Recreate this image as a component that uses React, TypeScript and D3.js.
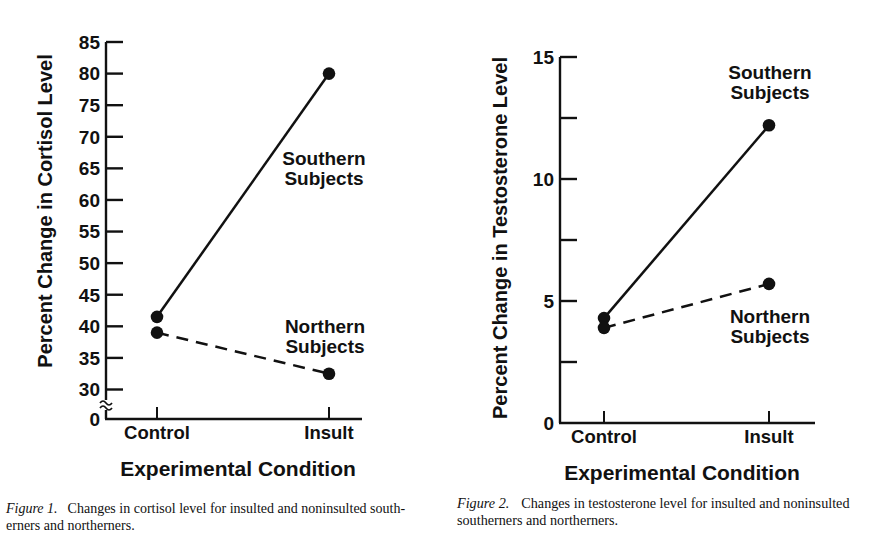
import React from 'react';
import * as d3 from 'd3';

const conditions = ['Control', 'Insult'];

const cortisolSouthern = [41.5, 80];
const cortisolNorthern = [39, 32.5];
const cortisolTicks = [30, 35, 40, 45, 50, 55, 60, 65, 70, 75, 80, 85];

const testoSouthern = [4.3, 12.2];
const testoNorthern = [3.9, 5.7];
const testoTicks = [0, 2.5, 5, 7.5, 10, 12.5, 15];
const testoLabels = [0, 5, 10, 15];

const sans = '"Liberation Sans", Arial, sans-serif';
const serif = '"Liberation Serif", "Times New Roman", serif';

type PanelProps = {
  axisX: number;
  axisEnd: number;
  xRange: [number, number];
  y: d3.ScaleLinear<number, number>;
  baseline: number;
  top: number;
  ticks: number[];
  labels: number[];
  southern: number[];
  northern: number[];
  yTitle: string;
  yTitleX: number;
  yTitleY: number;
  titleX: number;
  broken?: boolean;
  southLabel: [number, number];
  northLabel: [number, number];
};

const Panel: React.FC<PanelProps> = (p) => {
  const x = d3.scalePoint<string>().domain(conditions).range(p.xRange);
  const line = d3.line<number>()
    .x((_, i) => x(conditions[i]) as number)
    .y(d => p.y(d));

  return (
    <g>
      {/* axes */}
      <line x1={p.axisX} x2={p.axisX} y1={p.top} y2={p.baseline} stroke="#111" strokeWidth={2.4} />
      <line x1={p.axisX - 1} x2={p.axisEnd} y1={p.baseline} y2={p.baseline} stroke="#111" strokeWidth={2.4} />
      {p.ticks.filter(t => p.y(t) < p.baseline - 1).map(t => (
        <line key={t} x1={p.axisX} x2={p.axisX + 17} y1={p.y(t)} y2={p.y(t)} stroke="#111" strokeWidth={2.4} />
      ))}
      {p.labels.map(t => (
        <text key={t} x={p.axisX - 6} y={p.y(t)} dy="0.36em" textAnchor="end"
          fontFamily={sans} fontWeight="bold" fontSize={19} fill="#111">{t}</text>
      ))}
      {p.broken && (
        <g>
          <rect x={p.axisX - 4} y={400} width={8} height={10} fill="#fff" />
          <path d={`M${p.axisX - 6},${403} q3,-4 6,0 t6,0`} fill="none" stroke="#111" strokeWidth={1.7} />
          <path d={`M${p.axisX - 6},${408} q3,-4 6,0 t6,0`} fill="none" stroke="#111" strokeWidth={1.7} />
          <text x={p.axisX - 6} y={p.baseline} dy="0.36em" textAnchor="end"
            fontFamily={sans} fontWeight="bold" fontSize={19} fill="#111">0</text>
        </g>
      )}
      {conditions.map(c => (
        <g key={c}>
          <line x1={x(c)} x2={x(c)} y1={p.baseline} y2={p.baseline - 12} stroke="#111" strokeWidth={2} />
          <text x={x(c)} y={p.baseline + 20} textAnchor="middle"
            fontFamily={sans} fontWeight="bold" fontSize={18.5} fill="#111">{c}</text>
        </g>
      ))}
      <text x={p.titleX} y={p.baseline + 57} textAnchor="middle"
        fontFamily={sans} fontWeight="bold" fontSize={21} fill="#111">Experimental Condition</text>
      <text transform={`translate(${p.yTitleX},${p.yTitleY}) rotate(-90)`} textAnchor="middle"
        fontFamily={sans} fontWeight="bold" fontSize={20} fill="#111">{p.yTitle}</text>

      {/* series */}
      <path d={line(p.southern) ?? ''} fill="none" stroke="#111" strokeWidth={2.5} />
      <path d={line(p.northern) ?? ''} fill="none" stroke="#111" strokeWidth={2.5} strokeDasharray="12,8" />
      {[p.southern, p.northern].map((s, k) => s.map((v, i) => (
        <circle key={`${k}-${i}`} cx={x(conditions[i])} cy={p.y(v)} r={6.3} fill="#111" />
      )))}

      <text x={p.southLabel[0]} y={p.southLabel[1]} textAnchor="middle"
        fontFamily={sans} fontWeight="bold" fontSize={19} fill="#111">
        <tspan x={p.southLabel[0]} dy="0">Southern</tspan>
        <tspan x={p.southLabel[0]} dy="20">Subjects</tspan>
      </text>
      <text x={p.northLabel[0]} y={p.northLabel[1]} textAnchor="middle"
        fontFamily={sans} fontWeight="bold" fontSize={19} fill="#111">
        <tspan x={p.northLabel[0]} dy="0">Northern</tspan>
        <tspan x={p.northLabel[0]} dy="20">Subjects</tspan>
      </text>
    </g>
  );
};

const App: React.FC = () => {
  const yCort = d3.scaleLinear().domain([30, 85]).range([389.5, 42]);
  const yTesto = d3.scaleLinear().domain([0, 15]).range([423, 57]);

  return (
    <svg width={891} height={544} style={{ position: 'absolute', left: 0, top: 0, background: '#fff' }}>
      <Panel axisX={106} axisEnd={362} xRange={[157, 329]} y={yCort} baseline={419} top={42}
        ticks={cortisolTicks} labels={cortisolTicks} southern={cortisolSouthern} northern={cortisolNorthern}
        yTitle="Percent Change in Cortisol Level" yTitleX={52} yTitleY={211} titleX={238} broken
        southLabel={[324, 165]} northLabel={[325, 333]} />
      <Panel axisX={560} axisEnd={815} xRange={[604, 769]} y={yTesto} baseline={423} top={57}
        ticks={testoTicks} labels={testoLabels} southern={testoSouthern} northern={testoNorthern}
        yTitle="Percent Change in Testosterone Level" yTitleX={507} yTitleY={238} titleX={682}
        southLabel={[770, 79]} northLabel={[770, 323]} />

      <text x={6} y={513} fontFamily={serif} fontSize={14} fill="#111">
        <tspan fontStyle="italic">Figure 1.</tspan>
        <tspan dx={10}>Changes in cortisol level for insulted and noninsulted south-</tspan>
      </text>
      <text x={6} y={530} fontFamily={serif} fontSize={14} fill="#111">erners and northerners.</text>
      <text x={457} y={508} fontFamily={serif} fontSize={14.2} fill="#111">
        <tspan fontStyle="italic">Figure 2.</tspan>
        <tspan dx={12}>Changes in testosterone level for insulted and noninsulted</tspan>
      </text>
      <text x={457} y={525} fontFamily={serif} fontSize={14.2} fill="#111">southerners and northerners.</text>
    </svg>
  );
};

export default App;
